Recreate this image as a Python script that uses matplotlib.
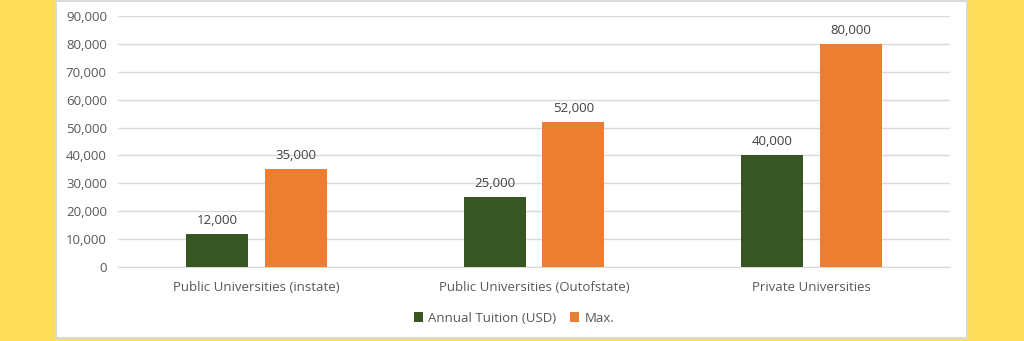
import matplotlib
matplotlib.use("Agg")
import matplotlib.pyplot as plt
import numpy as np
from matplotlib.patches import Rectangle
from matplotlib.ticker import FuncFormatter

categories = ["Public Universities (instate)", "Public Universities (Outofstate)", "Private Universities"]
annual_tuition = [12000, 25000, 40000]
max_tuition = [35000, 52000, 80000]
series_names = ["Annual Tuition (USD)", "Max."]

plt.rcParams['font.family'] = ['Open Sans', 'DejaVu Sans']
W, H = 1024, 341
fig = plt.figure(figsize=(W/100, H/100), dpi=100)
fig.patch.set_facecolor('#FEDD5A')
fig.patches.append(Rectangle((56/W, 3/H), (967-56)/W, (340-3)/H, transform=fig.transFigure,
                             facecolor='white', edgecolor='#D9D9D9', linewidth=1.5, zorder=-5))

ax = fig.add_axes([118/W, 1-267/H, (950-118)/W, (267-16)/H])
ax.set_facecolor('none')
x = np.arange(len(categories))
bw = 0.224
off = 0.142
green = '#375623'
orange = '#ED7D31'
b1 = ax.bar(x - off, annual_tuition, bw, color=green, label=series_names[0], zorder=3)
b2 = ax.bar(x + off, max_tuition, bw, color=orange, label=series_names[1], zorder=3)
txtc = '#595959'
for bars in (b1, b2):
    for r in bars:
        ax.annotate(f"{int(r.get_height()):,}", (r.get_x() + r.get_width()/2, r.get_height()),
                    xytext=(0, 5), textcoords='offset points', ha='center', va='bottom',
                    fontsize=9.5, color='#404040')
ax.set_xlim(-0.5, 2.5)
ax.set_ylim(0, 90000)
ax.set_yticks(np.arange(0, 90001, 10000))
ax.yaxis.set_major_formatter(FuncFormatter(lambda v, p: f"{int(v):,}"))
ax.set_xticks(x)
ax.set_xticklabels(categories)
ax.tick_params(axis='both', length=0, labelsize=9.5, labelcolor=txtc)
ax.tick_params(axis='y', pad=8)
ax.tick_params(axis='x', pad=10)
ax.grid(axis='y', color='#D9D9D9', linewidth=1, zorder=0)
for s in ['top', 'right', 'left']:
    ax.spines[s].set_visible(False)
ax.spines['bottom'].set_color('#D9D9D9')
leg = fig.legend(handles=[b1, b2], labels=series_names, loc='center', bbox_to_anchor=(514/W, 1-318/H),
                 ncol=2, frameon=False, fontsize=9.5, handlelength=0.7, handleheight=0.7,
                 columnspacing=1.0, handletextpad=0.4)
for t in leg.get_texts():
    t.set_color(txtc)
fig.savefig('out.png', dpi=100, facecolor=fig.get_facecolor())
